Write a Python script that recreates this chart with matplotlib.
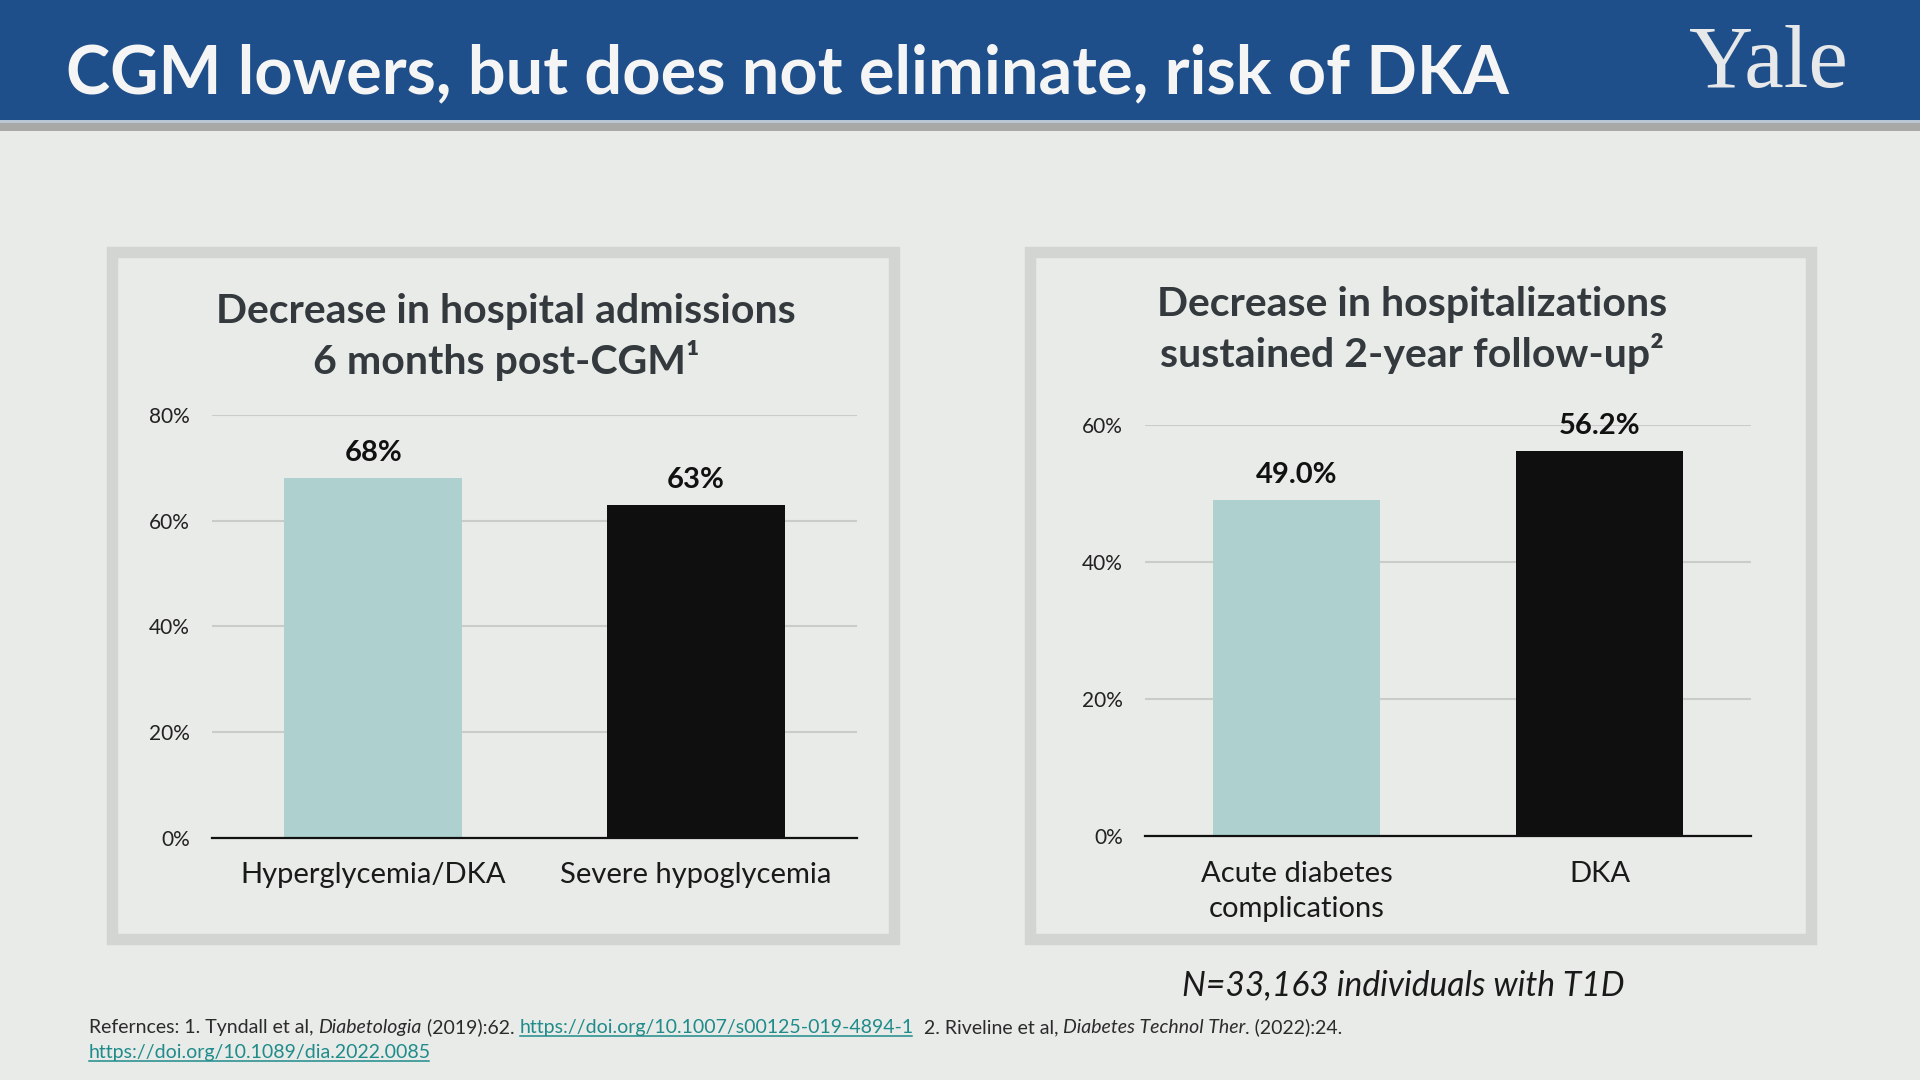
import matplotlib
matplotlib.use('Agg')
from matplotlib import pyplot as plt
from matplotlib.patches import Rectangle

plt.rcParams['font.family'] = ['Lato', 'DejaVu Sans']

# data
left_categories = ['Hyperglycemia/DKA', 'Severe hypoglycemia']
left_values = [68, 63]
left_ticks = [0, 20, 40, 60, 80]
right_categories = ['Acute diabetes\ncomplications', 'DKA']
right_values = [49.0, 56.2]
right_ticks = [0, 20, 40, 60]

title = 'CGM lowers, but does not eliminate, risk of DKA'
left_title = 'Decrease in hospital admissions\n6 months post-CGM\u00b9'
right_title = 'Decrease in hospitalizations\nsustained 2-year follow-up\u00b2'
note = 'N=33,163 individuals with T1D'

BG = '#e8ebe7'
BLUE = '#1f4f8a'
FRAME = '#d3d5d2'
TEAL = '#aed1d0'
BLACK = '#0f0f0f'
GRID = '#c9ccc9'
TXT = '#33393d'
LINK = '#1f8b8b'

W, H = 1920, 1080
fig = plt.figure(figsize=(19.2, 10.8), dpi=100, facecolor=BG)

# background axes in pixel units (y down)
bg = fig.add_axes([0, 0, 1, 1])
bg.set_xlim(0, W)
bg.set_ylim(H, 0)
bg.axis('off')
bg.set_zorder(-1)

# header
bg.add_patch(Rectangle((0, 0), W, 120, color=BLUE, lw=0))
bg.add_patch(Rectangle((0, 120), W, 3, color='#b9c6d3', lw=0))
bg.add_patch(Rectangle((0, 123), W, 8, color='#a8a9a7', lw=0))
bg.text(66, 93, title, color='#f4f5f4', fontsize=48, fontweight='bold',
        va='baseline', ha='left')
bg.text(1689, 87, 'Yale', color='#e6e8ea', fontsize=64,
        family='Liberation Serif', va='baseline', ha='left')

# panel frames
for x0 in (112, 1029.5):
    bg.add_patch(Rectangle((x0, 251.5), 781.5, 687, fill=False,
                           edgecolor=FRAME, lw=8.2))


def px_axes(x0, x1, ytop, ybot):
    return fig.add_axes([x0 / W, 1 - ybot / H, (x1 - x0) / W, (ybot - ytop) / H])


def bar_panel(ax, cats, vals, ticks, fmt):
    xs = range(len(cats))
    ax.bar(xs, vals, width=0.553, color=[TEAL, BLACK], zorder=3)
    ax.set_facecolor('none')
    ax.set_xlim(-0.5, len(cats) - 0.5)
    ax.set_ylim(0, ticks[-1])
    ax.set_yticks(ticks)
    ax.set_yticklabels([f'{t}%' for t in ticks], fontsize=15, color='#222222')
    ax.set_xticks(list(xs))
    ax.set_xticklabels(cats, fontsize=21, color='#1a1a1a', linespacing=1.45)
    ax.tick_params(axis='both', length=0)
    ax.tick_params(axis='y', pad=16)
    ax.tick_params(axis='x', pad=18)
    ax.grid(axis='y', color=GRID, lw=1.5, zorder=0)
    for s in ('top', 'right', 'left'):
        ax.spines[s].set_visible(False)
    ax.spines['bottom'].set_color('#111111')
    ax.spines['bottom'].set_linewidth(1.6)
    ax.spines['bottom'].set_zorder(4)
    for x, v in zip(xs, vals):
        ax.annotate(fmt.format(v), (x, v), xytext=(0, 18), textcoords='offset points',
                    ha='center', va='center', fontsize=21, fontweight='bold',
                    color='#111111', annotation_clip=False)


axl = px_axes(212, 857, 415, 837.5)
bar_panel(axl, left_categories, left_values, left_ticks, '{:.0f}%')
axr = px_axes(1145, 1751, 425, 836)
bar_panel(axr, right_categories, right_values, right_ticks, '{:.1f}%')

# panel titles
bg.text(506, 337, left_title, ha='center', va='center', fontsize=29.5,
        fontweight='bold', color=TXT, linespacing=1.3)
bg.text(1412, 330, right_title, ha='center', va='center', fontsize=29.5,
        fontweight='bold', color=TXT, linespacing=1.3)

bg.text(1403, 985, note, ha='center', va='center', fontsize=24.2,
        style='italic', color='#1a1a1a')

# references, built piece by piece
renderer = fig.canvas.get_renderer()
ref_lines = [
    [('Refernces: 1. Tyndall et al, ', 'normal', False),
     ('Diabetologia', 'italic', False),
     (' (2019):62. ', 'normal', False),
     ('https://doi.org/10.1007/s00125-019-4894-1', 'normal', True),
     ('  2. Riveline et al, ', 'normal', False),
     ('Diabetes Technol Ther', 'italic', False),
     ('. (2022):24.', 'normal', False)],
    [('https://doi.org/10.1089/dia.2022.0085', 'normal', True)],
]
for yb, pieces in zip((1033, 1058), ref_lines):
    x = 89
    for s, st, link in pieces:
        t = bg.text(x, yb, s, fontsize=14, style=st, va='baseline', ha='left',
                    color=LINK if link else '#2b2b2b')
        bb = t.get_window_extent(renderer)
        if link:
            bg.plot([bb.x0, bb.x1 - 2], [yb + 3, yb + 3], color=LINK, lw=1.1)
        x = bb.x1

fig.savefig('out.png', dpi=100, facecolor=BG)
